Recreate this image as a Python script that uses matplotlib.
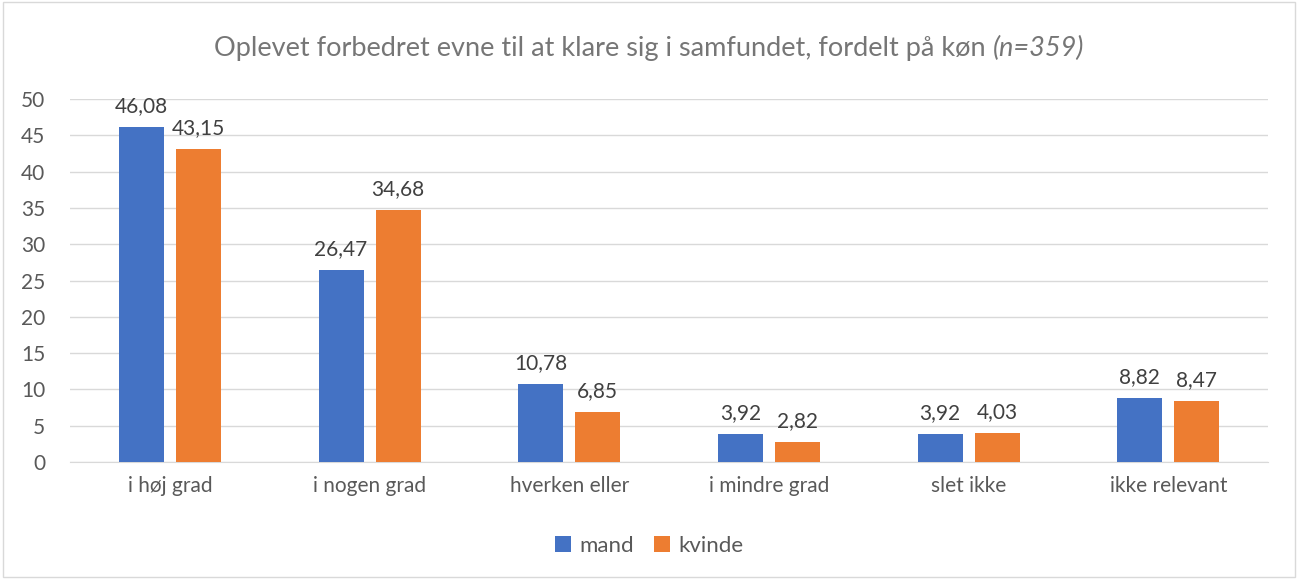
import numpy as np
import matplotlib.pyplot as plt
from matplotlib.patches import Rectangle

categories = ['i høj grad', 'i nogen grad', 'hverken eller', 'i mindre grad', 'slet ikke', 'ikke relevant']
mand = [46.08, 26.47, 10.78, 3.92, 3.92, 8.82]
kvinde = [43.15, 34.68, 6.85, 2.82, 4.03, 8.47]

plt.rcParams['font.family'] = ['Lato', 'DejaVu Sans']
grey = '#595959'

fig = plt.figure(figsize=(12.98, 5.79), dpi=100)
ax = fig.add_axes([0.054, 0.202, 0.923, 0.627])

x = np.arange(len(categories))
w = 0.225
b1 = ax.bar(x - 0.143, mand, w, color='#4472C4', label='mand', zorder=3)
b2 = ax.bar(x + 0.143, kvinde, w, color='#ED7D31', label='kvinde', zorder=3)

def fmt(v):
    return f'{v:.2f}'.replace('.', ',')

for bars, vals in [(b1, mand), (b2, kvinde)]:
    for r, v in zip(bars, vals):
        ax.text(r.get_x() + r.get_width() / 2, v + 1.5, fmt(v), ha='center', va='bottom',
                fontsize=15, color='#404040')

ax.set_xlim(-0.5, 5.5)
ax.set_ylim(0, 50)
ax.set_yticks(range(0, 51, 5))
ax.set_xticks(x)
ax.set_xticklabels(categories)
ax.tick_params(axis='both', length=0, labelsize=15, labelcolor=grey)
ax.tick_params(axis='x', pad=10)
ax.tick_params(axis='y', pad=18)
ax.grid(axis='y', color='#D9D9D9', linewidth=1, zorder=0)
for s in ['top', 'right', 'left']:
    ax.spines[s].set_visible(False)
ax.spines['bottom'].set_color('#D9D9D9')

# title: regular part + italic (n=359), centred together
title_main = 'Oplevet forbedret evne til at klare sig i samfundet, fordelt på køn '
title_n = '(n=359)'
tc = '#767676'
ty = 0.917
main = fig.text(0, ty, title_main, ha='left', va='center', fontsize=19.5, color=tc)
nt = fig.text(0, ty, title_n, ha='left', va='center', fontsize=19.5, color=tc, style='italic')
fig.canvas.draw()
w1 = main.get_window_extent().width / fig.bbox.width
w2 = nt.get_window_extent().width / fig.bbox.width
x0 = 0.5 - (w1 + w2) / 2
main.set_x(x0)
nt.set_x(x0 + w1)

fig.legend(handles=[b1, b2], labels=['mand', 'kvinde'], loc='center', bbox_to_anchor=(0.5, 0.057),
           ncol=2, frameon=False, fontsize=16, labelcolor=grey, handlelength=0.75, handleheight=0.75,
           columnspacing=0.9, handletextpad=0.35)

fig.patches.append(Rectangle((0.002, 0.003), 0.996, 0.994, transform=fig.transFigure,
                             fill=False, edgecolor='#D9D9D9', linewidth=1))

fig.savefig('out.png', dpi=100)
